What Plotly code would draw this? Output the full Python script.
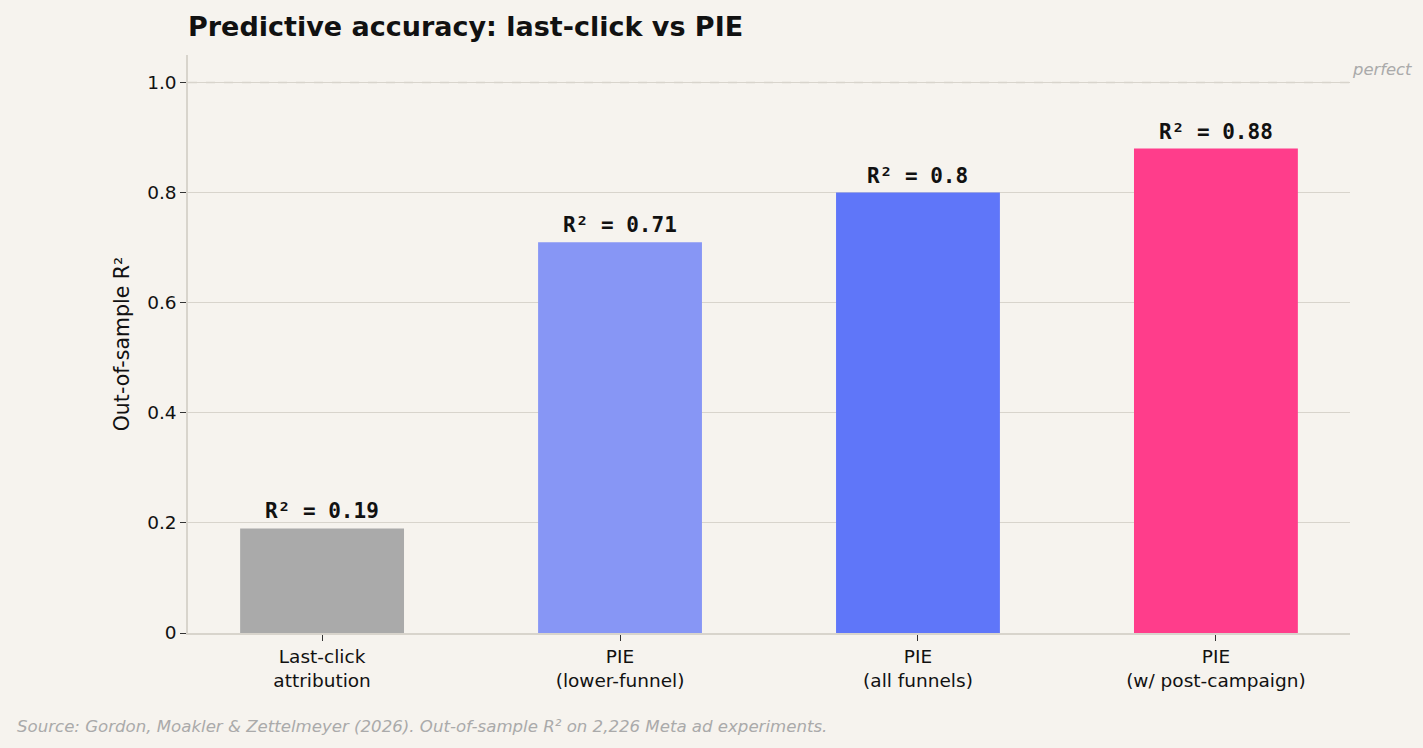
""" Predictive accuracy of last-click attribution vs PIE models. """

import plotly.graph_objects as go

# Data
categories = ['Last-click<br>attribution', 'PIE<br>(lower-funnel)',
              'PIE<br>(all funnels)', 'PIE<br>(w/ post-campaign)']
r2_values  = [0.19, 0.71, 0.80, 0.88]
bar_labels = ['R² = 0.19', 'R² = 0.71', 'R² = 0.8', 'R² = 0.88']
bar_colors = ['#aaaaaa', '#8796f5', '#5f76f9', '#ff3d8b']
y_ticks    = [0, 0.2, 0.4, 0.6, 0.8, 1.0]
y_ticktext = ['0', '0.2', '0.4', '0.6', '0.8', '1.0']

bg    = '#f6f3ee'
grid  = '#d8d4cc'
font  = 'DejaVu Sans'

x_pos = list(range(len(categories)))

fig = go.Figure()
fig.add_trace(go.Bar(x=x_pos, y=r2_values, width=0.55,
                     marker_color=bar_colors, marker_line_width=0,
                     hoverinfo='skip'))

# Value labels above each bar
for xi, yi, lab in zip(x_pos, r2_values, bar_labels):
    fig.add_annotation(x=xi, y=yi, text=f'<b>{lab}</b>', showarrow=False,
                       yanchor='bottom', yshift=3,
                       font=dict(family='DejaVu Sans Mono', size=21, color='#111111'))

# "perfect" reference line
fig.add_shape(type='line', xref='paper', x0=0, x1=1, y0=1.0, y1=1.0,
              line=dict(color=grid, width=1.5, dash='dash'))
fig.add_annotation(xref='paper', x=1.0, y=1.0, text='<i>perfect</i>',
                   showarrow=False, xanchor='left', yanchor='bottom', yshift=2,
                   font=dict(family=font, size=16.4, color='#aaaaaa'))

# Source note
fig.add_annotation(xref='paper', yref='paper', x=-0.149, y=-0.161,
                   xanchor='left', yanchor='middle', showarrow=False,
                   text='<i>Source: Gordon, Moakler & Zettelmeyer (2026). '
                        'Out-of-sample R² on 2,226 Meta ad experiments.</i>',
                   font=dict(family=font, size=16.6, color='#aaaaaa'))

fig.update_layout(
    width=1423, height=748,
    paper_bgcolor=bg, plot_bgcolor=bg,
    margin=dict(l=188, r=73, t=55, b=115),
    showlegend=False,
    font=dict(family=font, size=18.5, color='#111111'),
    title=dict(text='<b>Predictive accuracy: last-click vs PIE</b>',
               x=188 / 1423, xanchor='left', y=1 - 27 / 748, yanchor='middle',
               font=dict(family=font, size=27, color='#111111')),
    bargap=0.45,
)
fig.update_xaxes(range=[-0.45, 3.45], tickvals=x_pos, ticktext=categories,
                 showgrid=False, zeroline=False,
                 showline=True, linecolor=grid, linewidth=1.5,
                 ticks='outside', ticklen=6, tickcolor='#333333',
                 tickfont=dict(size=18.5))
fig.update_yaxes(range=[0, 1.05], tickvals=y_ticks, ticktext=y_ticktext,
                 showgrid=True, gridcolor=grid, gridwidth=1,
                 zeroline=False, showline=True, linecolor=grid, linewidth=1.5,
                 ticks='outside', ticklen=6, tickcolor='#333333',
                 tickfont=dict(size=18.5),
                 title=dict(text='Out-of-sample R²', font=dict(size=20.5),
                            standoff=12))

# drop the default page margin so the figure sits at the window's corner
fig.write_html("out.html", config={'displayModeBar': False},
               post_script="document.body.style.margin='0';")
